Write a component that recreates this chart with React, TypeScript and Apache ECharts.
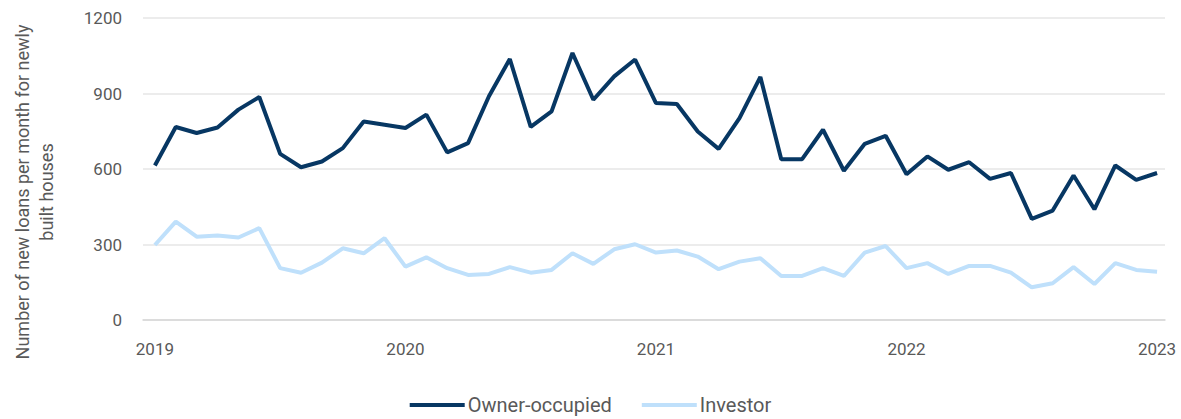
import React, { useEffect, useRef } from "react";
import * as echarts from "echarts";

const yearLabels = ["2019", "2020", "2021", "2022", "2023"];
const yearTickIndex = [0, 12, 24, 36, 48];
const yTicks = [0, 300, 600, 900, 1200];

const ownerOccupied = [
  614, 767, 743, 765, 836, 886, 660, 607, 630, 683, 789, 776,
  763, 816, 666, 703, 889, 1037, 767, 829, 1061, 875, 968, 1035,
  862, 858, 749, 680, 802, 966, 639, 639, 756, 593, 700, 732,
  579, 650, 597, 627, 561, 584, 402, 435, 574, 440, 614, 557,
  584,
];

const investor = [
  298, 391, 331, 336, 328, 365, 206, 188, 228, 285, 265, 325,
  212, 249, 206, 179, 183, 210, 188, 199, 265, 223, 281, 301,
  268, 276, 252, 202, 232, 245, 175, 175, 206, 175, 268, 294,
  206, 226, 183, 215, 215, 188, 130, 146, 210, 143, 226, 199,
  192,
];

const seriesNames = ["Owner-occupied", "Investor"];
const yTitle = "Number of new loans per month for newly\nbuilt houses";

export default function App() {
  const ref = useRef<HTMLDivElement>(null);
  useEffect(() => {
    if (!ref.current) return;
    const chart = echarts.init(ref.current, null, { renderer: "svg" });
    const font = "Roboto, 'Noto Sans', sans-serif";
    const grey = "#595959";
    chart.setOption({
      animation: false,
      textStyle: { fontFamily: font },
      grid: { left: 143, right: 16, top: 18, bottom: 99, containLabel: false },
      xAxis: {
        type: "value",
        min: -0.57,
        max: 48.38,
        axisLine: { show: true, lineStyle: { color: "#d6d6d6", width: 1.5 } },
        axisTick: { show: false },
        splitLine: { show: false },
        axisLabel: {
          customValues: yearTickIndex,
          margin: 20,
          color: grey,
          fontSize: 17,
          fontFamily: font,
          formatter: (v: number) => {
            const i = yearTickIndex.indexOf(Math.round(v));
            return i >= 0 ? yearLabels[i] : "";
          },
        },
      },
      yAxis: {
        type: "value",
        min: yTicks[0],
        max: yTicks[yTicks.length - 1],
        interval: 300,
        axisLine: { show: false },
        axisTick: { show: false },
        splitLine: { show: true, lineStyle: { color: "#e6e6e6", width: 1.5 } },
        axisLabel: {
          margin: 21,
          color: grey,
          fontSize: 17,
          fontFamily: font,
          formatter: (v: number) => String(v),
        },
      },
      legend: {
        top: 390,
        left: "center",
        icon: "rect",
        itemWidth: 55,
        itemHeight: 4,
        itemGap: 30,
        textStyle: { color: grey, fontSize: 20, fontFamily: font, padding: [0, 0, 0, -2] },
        data: seriesNames,
      },
      graphic: [
        {
          type: "text",
          x: 34,
          y: 192,
          rotation: Math.PI / 2,
          style: {
            text: yTitle,
            fill: grey,
            font: `18px ${font}`,
            align: "center",
            verticalAlign: "middle",
            lineHeight: 24,
          },
        },
      ],
      series: [
        {
          name: seriesNames[0],
          type: "line",
          data: ownerOccupied.map((v, i) => [i, v]),
          showSymbol: false,
          symbol: "none",
          lineStyle: { color: "#073763", width: 4 },
          itemStyle: { color: "#073763" },
        },
        {
          name: seriesNames[1],
          type: "line",
          data: investor.map((v, i) => [i, v]),
          showSymbol: false,
          symbol: "none",
          lineStyle: { color: "#bfe0fb", width: 4 },
          itemStyle: { color: "#bfe0fb" },
        },
      ],
    });
    return () => chart.dispose();
  }, []);
  return (
    <div
      ref={ref}
      style={{ position: "absolute", left: 0, top: 0, width: 1181, height: 419 }}
    />
  );
}
